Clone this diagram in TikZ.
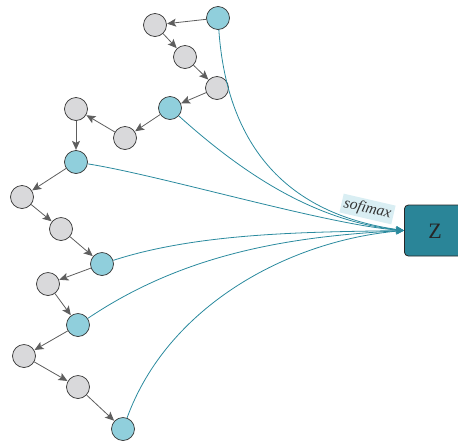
\documentclass[tikz,border=0pt]{standalone}
\usepackage{fontspec}
\setmainfont{Liberation Serif}
\usetikzlibrary{arrows.meta}
\definecolor{nodegray}{HTML}{D9D9DB}
\definecolor{nodeblue}{HTML}{90CFDC}
\definecolor{edgegray}{HTML}{5E5E5E}
\definecolor{feedteal}{HTML}{2A8A9E}
\definecolor{boxteal}{HTML}{2A8598}
\definecolor{labelbg}{HTML}{D9EEF3}
\tikzset{
  plain/.style={circle, draw=black!80, line width=0.7pt, fill=nodegray, minimum size=23pt, inner sep=0pt},
  hub/.style={plain, fill=nodeblue},
  chain/.style={draw=edgegray, line width=0.8pt, -{Stealth[length=9pt,width=8pt,inset=2pt]}, shorten >=0.3pt},
  feed/.style={draw=feedteal, line width=0.8pt, -{Stealth[length=8pt,width=7pt,inset=2pt]}},
}
\begin{document}
\begin{tikzpicture}[x=1pt,y=-1pt]
\useasboundingbox (0,0) rectangle (458,440);
% sequence of states
\node[hub]   (n1)  at (218,18)  {};
\node[plain] (n2)  at (155,25)  {};
\node[plain] (n3)  at (185,57)  {};
\node[plain] (n4)  at (217,88)  {};
\node[hub]   (n5)  at (170,108) {};
\node[plain] (n6)  at (125,138) {};
\node[plain] (n7)  at (76,109)  {};
\node[hub]   (n8)  at (76,162)  {};
\node[plain] (n9)  at (22,197)  {};
\node[plain] (n10) at (61,229)  {};
\node[hub]   (n11) at (102,264) {};
\node[plain] (n12) at (48,284)  {};
\node[hub]   (n13) at (78,325)  {};
\node[plain] (n14) at (24,356)  {};
\node[plain] (n15) at (78,387)  {};
\node[hub]   (n16) at (123,429) {};
% output box (runs past the right edge)
\node[draw=black!85, line width=0.8pt, fill=boxteal, rounded corners=4pt,
      minimum width=75pt, minimum height=51pt, anchor=west] (z) at (404,230.5) {};
\node[font=\fontsize{22}{26}\selectfont, text=black!85, inner sep=0pt] (zlabel) at (435,231) {Z};
\coordinate (zin) at (404,230.5);
% chain edges
\foreach \a/\b in {n1/n2,n2/n3,n3/n4,n4/n5,n5/n6,n6/n7,n7/n8,n8/n9,n9/n10,n10/n11,n11/n12,n12/n13,n13/n14,n14/n15,n15/n16}
  \draw[chain] (\a) -- (\b);
% feeds into the output
\draw[feed] (n1)  to[out=-86, in=172, looseness=1.1] (zin);
\draw[feed] (n5)  to[out=-42, in=174, looseness=0.9] (zin);
\draw[feed] (n8)  to[out=-9,  in=176, looseness=0.6] (zin);
\draw[feed] (n11) to[out=18,  in=181, looseness=0.8] (zin);
\draw[feed] (n13) to[out=34,  in=183, looseness=0.9] (zin);
\draw[feed] (n16) to[out=70,  in=185, looseness=0.9] (zin);
\node[fill=labelbg, rotate=-13, font=\itshape\fontsize{15.5}{18}\selectfont, inner sep=2.5pt, text=black!80] (lbl) at (367.5,209) {sofimax};
\end{tikzpicture}
\end{document}
